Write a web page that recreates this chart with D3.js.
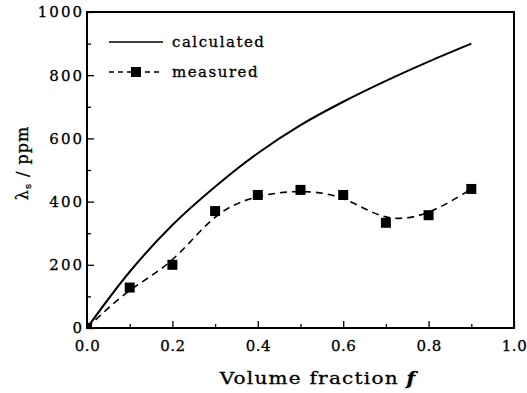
<!DOCTYPE html>
<html>
<head>
<meta charset="utf-8">
<script src="https://cdn.jsdelivr.net/npm/d3@7"></script>
<style>
  body { margin: 0; background: #fff; }
  text { font-family: "DejaVu Serif", serif; fill: #000; }
</style>
</head>
<body>
<svg id="chart" width="527" height="393"></svg>
<script>
// data
var fracs = [0, 0.1, 0.2, 0.3, 0.4, 0.5, 0.6, 0.7, 0.8, 0.9]
var calculated = [0, 178, 326, 447, 553, 642, 716, 782, 843, 900]
var measured = [0, 128, 200, 370, 421, 437, 421, 333, 357, 440]
var xTicks = [0, 0.2, 0.4, 0.6, 0.8, 1.0]
var yTicks = [0, 200, 400, 600, 800, 1000]

var svg = d3.select("#chart")
var margin = {top: 12, bottom: 65, left: 87, right: 13}
var width = 527 - margin.left - margin.right
var height = 393 - margin.top - margin.bottom

var g = svg.append("g").attr("transform", "translate(" + margin.left + "," + margin.top + ")")

var x = d3.scaleLinear().domain([0, 1]).range([0, width])
var y = d3.scaleLinear().domain([0, 1000]).range([height, 0])

g.append("clipPath").attr("id", "clip")
  .append("rect").attr("width", width).attr("height", height)

// minor ticks (inward)
g.append("g")
  .attr("transform", "translate(0," + height + ")")
  .call(d3.axisBottom(x).tickValues(d3.range(0.1, 1, 0.2)).tickSize(-4).tickFormat(""))
g.append("g")
  .call(d3.axisLeft(y).tickValues(d3.range(100, 1000, 200)).tickSize(-4).tickFormat(""))

// major ticks
var xAxis = g.append("g")
  .attr("transform", "translate(0," + height + ")")
  .call(d3.axisBottom(x).tickValues(xTicks).tickSize(-7).tickPadding(14).tickFormat(d3.format(".1f")))
var yAxis = g.append("g")
  .call(d3.axisLeft(y).tickValues(yTicks).tickSize(-7).tickPadding(5).tickFormat(d3.format("d")))

g.selectAll(".domain").remove()
g.selectAll(".tick line").attr("stroke", "#000").attr("stroke-width", 1.3)
g.selectAll(".tick text").attr("font-size", "15px").style("letter-spacing", "2px")
  .attr("font-family", "DejaVu Serif").attr("fill", "#000")
  .attr("stroke", "#000").attr("stroke-width", 0.3)
xAxis.selectAll(".tick text").attr("dy", "0.6em").style("letter-spacing", "0.5px")
yAxis.selectAll(".tick text").attr("dx", "2px")

// frame
g.append("rect")
  .attr("width", width).attr("height", height)
  .attr("fill", "none").attr("stroke", "#000").attr("stroke-width", 2)

var pts = fracs.map(function(f, i) { return {f: f, c: calculated[i], m: measured[i]} })

var plot = g.append("g").attr("clip-path", "url(#clip)")

plot.append("path")
  .datum(pts)
  .attr("fill", "none").attr("stroke", "#000").attr("stroke-width", 2)
  .attr("d", d3.line().x(function(d) { return x(d.f) }).y(function(d) { return y(d.c) }).curve(d3.curveCatmullRom.alpha(0.5)))

plot.append("path")
  .datum(pts)
  .attr("fill", "none").attr("stroke", "#000").attr("stroke-width", 1.6)
  .attr("stroke-dasharray", "7,5")
  .attr("d", d3.line().x(function(d) { return x(d.f) }).y(function(d) { return y(d.m) }).curve(d3.curveBasis))

plot.selectAll("rect.pt").data(pts).enter()
  .append("rect").attr("class", "pt")
  .attr("x", function(d) { return x(d.f) - 5 })
  .attr("y", function(d) { return y(d.m) - 5 })
  .attr("width", 10).attr("height", 10)
  .attr("fill", "#000")

// legend
var leg = g.append("g").attr("transform", "translate(22,30)")
leg.append("line").attr("x1", 0).attr("x2", 54).attr("y1", 0).attr("y2", 0)
  .attr("stroke", "#000").attr("stroke-width", 1.6)
leg.append("text").attr("x", 63).attr("y", 5).attr("font-size", "15px")
  .style("letter-spacing", "1.5px").attr("stroke", "#000").attr("stroke-width", 0.3).text("calculated")
leg.append("line").attr("x1", 0).attr("x2", 54).attr("y1", 30).attr("y2", 30)
  .attr("stroke", "#000").attr("stroke-width", 1.6).attr("stroke-dasharray", "5,4")
leg.append("rect").attr("x", 22).attr("y", 25).attr("width", 10).attr("height", 10).attr("fill", "#000")
leg.append("text").attr("x", 63).attr("y", 35).attr("font-size", "15px")
  .style("letter-spacing", "1.5px").attr("stroke", "#000").attr("stroke-width", 0.3).text("measured")

// axis titles
svg.append("text")
  .attr("transform", "translate(318,384) scale(1.25,1)")
  .attr("text-anchor", "middle").attr("font-size", "16px")
  .style("letter-spacing", "1px").attr("stroke", "#000").attr("stroke-width", 0.3)
  .html('Volume fraction <tspan font-style="italic" font-weight="bold">f</tspan>')

svg.append("text")
  .attr("transform", "translate(28,163) rotate(-90)")
  .attr("text-anchor", "middle").attr("font-size", "16px")
  .style("letter-spacing", "1px").attr("stroke", "#000").attr("stroke-width", 0.3)
  .html('λ<tspan font-size="10px" dy="3">s</tspan><tspan dy="-3"> / ppm</tspan>')
</script>
</body>
</html>
